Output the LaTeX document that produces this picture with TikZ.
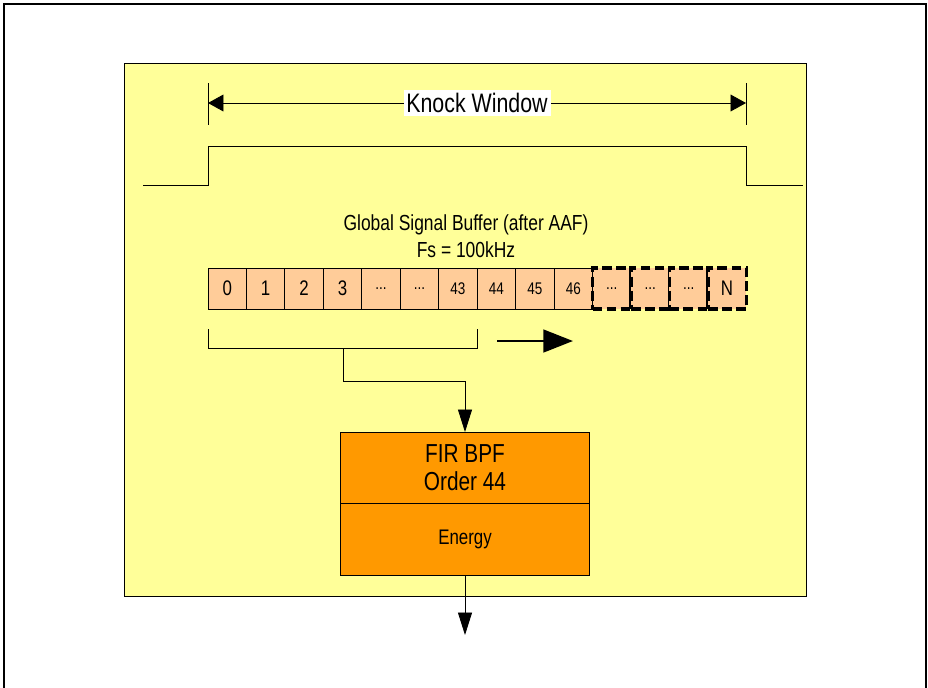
\documentclass[tikz,border=0pt]{standalone}
\usepackage{fontspec}
\setmainfont{Liberation Sans}[FakeStretch=0.8]
\usetikzlibrary{positioning, arrows.meta, calc}
\definecolor{paneyellow}{HTML}{FFFF99}
\definecolor{cellpeach}{HTML}{FFCC99}
\definecolor{blockorange}{HTML}{FF9900}
\tikzset{
  cell/.style={rectangle, draw, fill=cellpeach, minimum width=0.961cm, minimum height=1.025cm, outer sep=0pt, inner sep=0pt, font=\fontsize{15}{17}\selectfont},
  smallcell/.style={cell, font=\fontsize{12}{14}\selectfont},
  gapcell/.style={cell, line width=2.4pt, dash pattern=on 7pt off 3pt},
  block/.style={rectangle, draw, fill=blockorange, minimum width=6.225cm, outer sep=0pt, inner sep=0pt, align=center},
  flow/.style={-{Triangle[length=16pt, width=10pt]}, line width=0.6pt},
}

\begin{document}
\begin{tikzpicture}[x=0.025cm, y=-0.025cm, line width=0.6pt]
\useasboundingbox (0,0) rectangle (928,687);

% Frame and yellow pane
\draw[black, line width=1pt] (4,700) -- (4,4) -- (926,4) -- (926,700);
\draw[fill=paneyellow] (124,63) rectangle (806,596);

% Knock window
\coordinate (kwL) at (208,103);
\coordinate (kwR) at (746,103);
\draw (208,83) -- (208,125);
\draw (746,83) -- (746,125);
\draw[{Triangle[length=11pt, width=12pt]}-{Triangle[length=11pt, width=12pt]}] (kwL) -- (kwR)
  node[midway, fill=white, inner sep=2pt, font=\fontsize{19}{22}\selectfont] (kwlabel) {Knock Window};

% Window pulse
\draw (143,185) -- (208,185) -- (208,146) -- (746,146) -- (746,185) -- (803,185);

% Buffer title
\node[align=center, font=\fontsize{15.5}{19}\selectfont] (title) at (466,236) {Global Signal Buffer (after AAF)\\Fs = 100kHz};

% Buffer cells
\node[cell, anchor=north west] (c0) at (208,268) {0};
\node[cell, right=0pt of c0] (c1) {1};
\node[cell, right=0pt of c1] (c2) {2};
\node[cell, right=0pt of c2] (c3) {3};
\node[smallcell, right=0pt of c3] (c4) {...};
\node[smallcell, right=0pt of c4] (c5) {...};
\node[smallcell, right=0pt of c5] (c6) {43};
\node[smallcell, right=0pt of c6] (c7) {44};
\node[smallcell, right=0pt of c7] (c8) {45};
\node[smallcell, right=0pt of c8] (c9) {46};
\node[gapcell, font=\fontsize{12}{14}\selectfont, right=0pt of c9] (c10) {...};
\node[gapcell, font=\fontsize{12}{14}\selectfont, right=0pt of c10] (c11) {...};
\node[gapcell, font=\fontsize{12}{14}\selectfont, right=0pt of c11] (c12) {...};
\node[gapcell, right=0pt of c12] (c13) {N};

% Filter block
\node[block, anchor=north, minimum height=1.775cm, font=\fontsize{18.5}{20}\selectfont] (firbpf) at (465,432) {FIR BPF\\Order 44};
\node[block, below=0pt of firbpf, minimum height=1.8cm, font=\fontsize{15}{17}\selectfont] (energy) {Energy};

% Window of taps into the filter
\draw ($(c0.south west)+(0,20)$) -- ($(c0.south west)+(0,39)$) -- ($(c6.south east)+(0,39)$) -- ($(c6.south east)+(0,20)$);
\coordinate (tap) at (343,348);
\draw[flow] (tap) -- (343,381) -| (firbpf.north);

% Shift direction
\coordinate (shiftA) at (497,341);
\coordinate (shiftB) at (573,341);
\draw[-{Triangle[length=21pt, width=16pt]}, line width=2pt] (shiftA) -- (shiftB);

% Output
\coordinate (out) at (465,635);
\draw[flow] (energy.south) -- (out);

\end{tikzpicture}
\end{document}
